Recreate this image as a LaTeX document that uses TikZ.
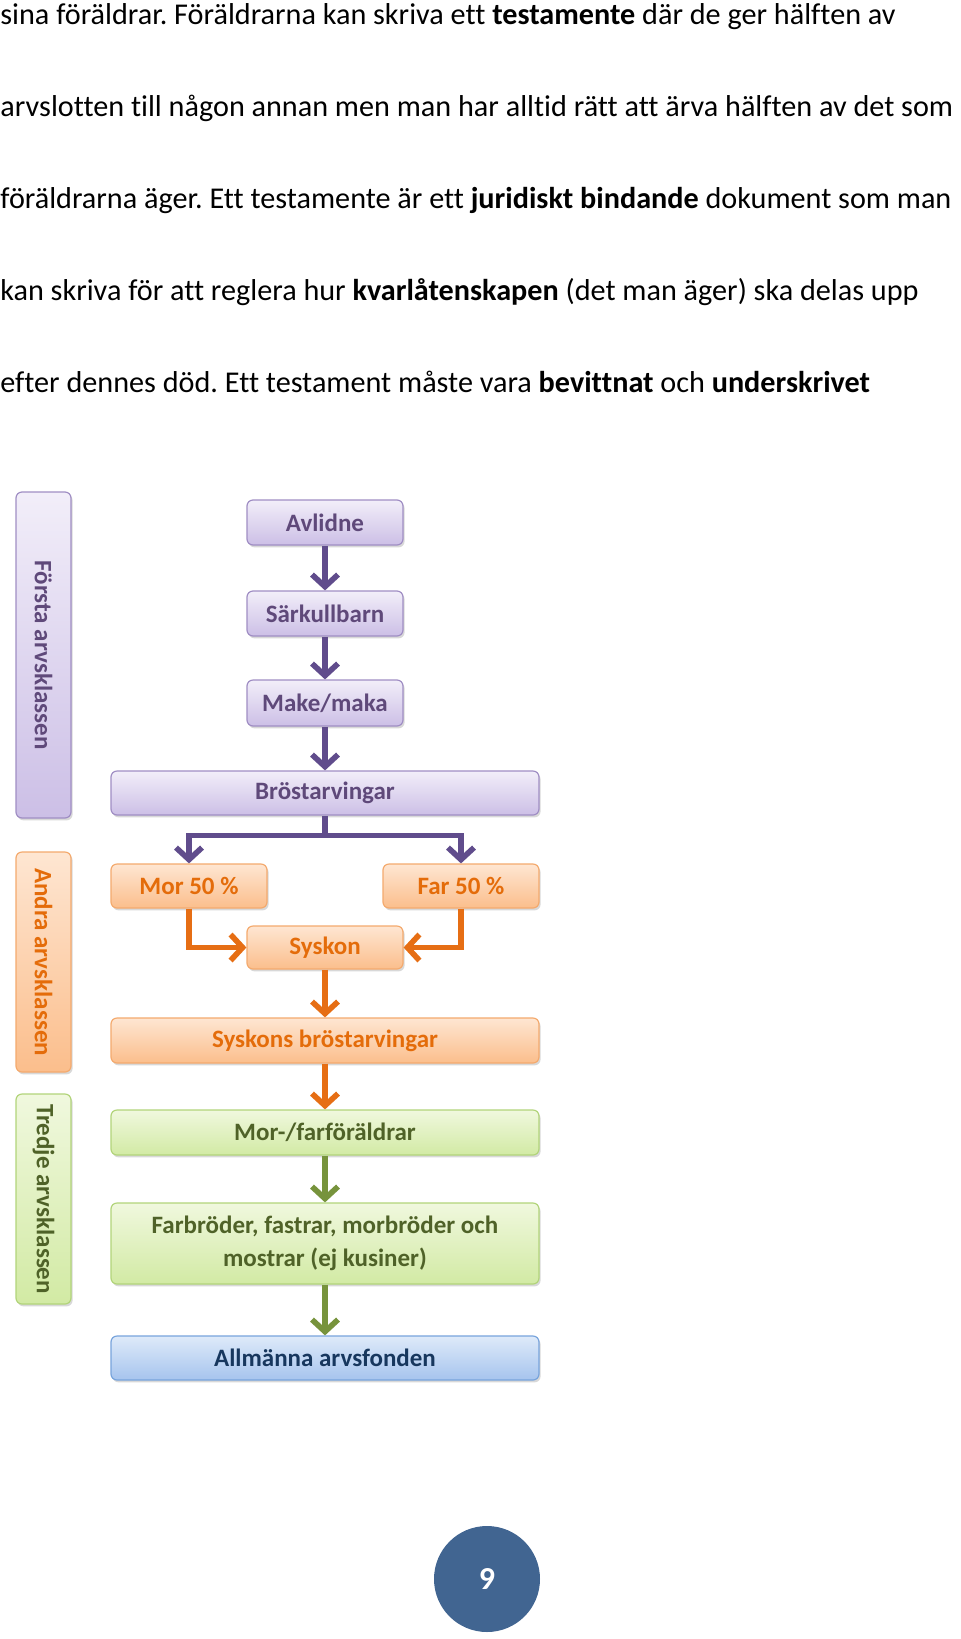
\documentclass[tikz,border=0pt]{standalone}
\usepackage{fontspec}
\setmainfont{Carlito}[Ligatures=NoCommon]
\usetikzlibrary{arrows.meta,shadows,calc}

\definecolor{purpletop}{RGB}{242,238,249}
\definecolor{purplebot}{RGB}{204,191,230}
\definecolor{purpleline}{RGB}{160,142,196}
\definecolor{purpletext}{RGB}{95,73,122}
\definecolor{purplearrow}{RGB}{96,76,140}
\definecolor{orangetop}{RGB}{254,230,210}
\definecolor{orangebot}{RGB}{251,190,140}
\definecolor{orangeline}{RGB}{244,170,110}
\definecolor{orangetext}{RGB}{228,108,10}
\definecolor{orangearrow}{RGB}{230,110,20}
\definecolor{greentop}{RGB}{240,248,222}
\definecolor{greenbot}{RGB}{210,234,164}
\definecolor{greenline}{RGB}{178,212,122}
\definecolor{greentext}{RGB}{79,98,40}
\definecolor{greenarrow}{RGB}{119,147,60}
\definecolor{bluetop}{RGB}{222,234,249}
\definecolor{bluebot}{RGB}{166,196,238}
\definecolor{blueline}{RGB}{120,164,220}
\definecolor{bluetext}{RGB}{23,55,94}
\definecolor{pagecircle}{RGB}{65,101,145}

\tikzset{
  box/.style={draw, rounded corners=3pt, line width=0.6pt, inner sep=2pt, align=center,
    font=\fontsize{12.5}{16.5}\selectfont\bfseries,
    drop shadow={shadow xshift=0.8pt, shadow yshift=-1.2pt, opacity=0.3}},
  purplebox/.style={box, draw=purpleline, top color=purpletop, bottom color=purplebot, text=purpletext},
  orangebox/.style={box, draw=orangeline, top color=orangetop, bottom color=orangebot, text=orangetext},
  greenbox/.style={box, draw=greenline, top color=greentop, bottom color=greenbot, text=greentext},
  bluebox/.style={box, draw=blueline, top color=bluetop, bottom color=bluebot, text=bluetext},
  smallbox/.style={minimum width=78pt, minimum height=22.5pt},
  widebox/.style={minimum width=214pt, minimum height=22.5pt},
  classbox/.style={minimum width=27.5pt},
  flow/.style={line width=2.8pt, -{Straight Barb[length=6pt,width=13pt]}},
  bodyline/.style={anchor=base west, inner sep=0pt, font=\fontsize{15.1}{18}\selectfont},
}

\begin{document}
\frenchspacing
\begin{tikzpicture}[x=0.5pt,y=-0.5pt]
  %%%%% START %%%%%

  \useasboundingbox (0,0) rectangle (960,1639);
  \fill[white] (0,0) rectangle (960,1639);

  % text above the chart
  \node[bodyline] (l1) at (0,24) {sina föräldrar. Föräldrarna kan skriva ett \textbf{testamente} där de ger hälften av};
  \node[bodyline] (l2) at (0,116) {arvslotten till någon annan men man har alltid rätt att ärva hälften av det som};
  \node[bodyline] (l3) at (0,208) {föräldrarna äger. Ett testamente är ett \textbf{juridiskt bindande} dokument som man};
  \node[bodyline] (l4) at (0,300) {kan skriva för att reglera hur \textbf{kvarlåtenskapen} (det man äger) ska delas upp};
  \node[bodyline] (l5) at (0,392) {efter dennes död. Ett testament måste vara \textbf{bevittnat} och \textbf{underskrivet}};

  % class labels
  \node[purplebox, classbox, minimum height=163pt] (forsta) at (43.5,655) {\rotatebox{-90}{Första arvsklassen}};
  \node[orangebox, classbox, minimum height=110pt] (andra) at (43.5,962) {\rotatebox{-90}{Andra arvsklassen}};
  \node[greenbox, classbox, minimum height=105pt] (tredje) at (43.5,1199) {\rotatebox{-90}{Tredje arvsklassen}};

  % first class
  \node[purplebox, smallbox] (avlidne) at (325,522.5) {Avlidne};
  \node[purplebox, smallbox] (sark) at (325,613.5) {Särkullbarn};
  \node[purplebox, smallbox, minimum height=23pt] (make) at (325,703) {Make/maka};
  \node[purplebox, widebox, minimum height=22pt] (bro) at (325,793) {Bröstarvingar};

  % second class
  \node[orangebox, smallbox, minimum height=22pt] (mor) at (189,886) {Mor 50 \%};
  \node[orangebox, smallbox, minimum height=22pt] (far) at (461,886) {Far 50 \%};
  \node[orangebox, smallbox, minimum height=21.5pt] (syskon) at (325,947.5) {Syskon};
  \node[orangebox, widebox] (sbro) at (325,1040.5) {Syskons bröstarvingar};

  % third class
  \node[greenbox, widebox] (morfar) at (325,1132.5) {Mor-/farföräldrar};
  \node[greenbox, widebox, minimum height=40.5pt] (farbr) at (325,1243.5) {Farbröder, fastrar, morbröder och\\mostrar (ej kusiner)};
  \node[bluebox, widebox, minimum height=22pt] (fond) at (325,1358) {Allmänna arvsfonden};

  % arrows
  \draw[flow, purplearrow] (avlidne) -- (sark);
  \draw[flow, purplearrow] (sark) -- (make);
  \draw[flow, purplearrow] (make) -- (bro);
  \coordinate (split) at ($(bro.south)+(0,20)$);
  \draw[line width=2.8pt, purplearrow] (bro.south) -- (split);
  \draw[flow, purplearrow] (split) -| (mor.north);
  \draw[flow, purplearrow] (split) -| (far.north);

  \draw[flow, orangearrow] (mor.south) |- (syskon.west);
  \draw[flow, orangearrow] (far.south) |- (syskon.east);
  \draw[flow, orangearrow] (syskon) -- (sbro);
  \draw[flow, orangearrow] (sbro) -- (morfar);

  \draw[flow, greenarrow] (morfar) -- (farbr);
  \draw[flow, greenarrow] (farbr) -- (fond);

  % page number
  \node[circle, fill=pagecircle, minimum size=53pt, text=white, font=\fontsize{16}{18}\selectfont\bfseries] (page) at (487,1579) {9};

  %%%%% END %%%%%
\end{tikzpicture}
\end{document}
